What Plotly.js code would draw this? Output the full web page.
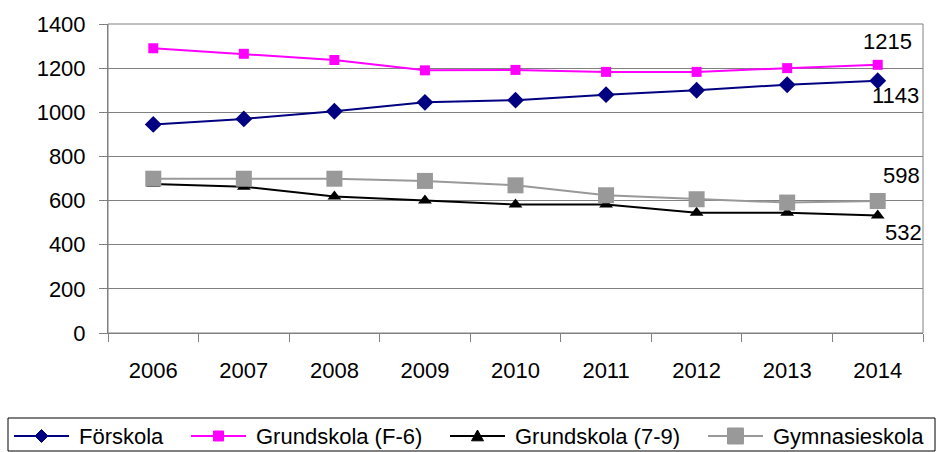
<!DOCTYPE html>
<html><head><meta charset="utf-8">
<script src="https://cdn.plot.ly/plotly-3.0.1.min.js"></script>
<style>body{margin:0;padding:0;background:#fff}#chart{width:939px;height:452px}</style>
</head><body><div id="chart"></div>
<script>
const years = ["2006","2007","2008","2009","2010","2011","2012","2013","2014"];
const forskola = [945, 970, 1005, 1045, 1055, 1080, 1100, 1125, 1143];
const grundF6 = [1290, 1265, 1237, 1190, 1192, 1183, 1183, 1200, 1215];
const grund79 = [675, 663, 618, 600, 582, 582, 545, 545, 532];
const gymnasie = [699, 699, 699, 689, 669, 624, 606, 591, 598];
const yTicks = [0, 200, 400, 600, 800, 1000, 1200, 1400];
const seriesNames = ["Förskola", "Grundskola (F-6)", "Grundskola (7-9)", "Gymnasieskola"];

const FONT = "Liberation Sans, Arial, sans-serif";
const colors = ["#000080", "#FF00FF", "#000000", "#999999"];
const symbols = ["diamond", "square", "triangle-up", "square"];
const sizes = [13, 10, 12, 16];
const values = [forskola, grundF6, grund79, gymnasie];

const traces = values.map((v, i) => ({
  x: years, y: v, name: seriesNames[i], mode: "lines+markers", showlegend: false,
  line: {color: colors[i], width: 2}, marker: {symbol: symbols[i], size: sizes[i], color: colors[i]}
}));

// Page-pixel -> paper conversion for the custom legend below the plot
const M = {l: 108, r: 16, t: 24, b: 119};
const PW = 939 - M.l - M.r, PH = 452 - M.t - M.b;
const px = p => (p - M.l) / PW;
const py = p => (452 - M.b - p) / PH;
const pt = (x, y) => px(x).toFixed(5) + "," + py(y).toFixed(5);
function glyphPath(sym, cx, cy, size) {
  const h = size / 2;
  if (sym === "diamond") return "M" + pt(cx, cy - h) + " L" + pt(cx + h, cy) + " L" + pt(cx, cy + h) + " L" + pt(cx - h, cy) + " Z";
  if (sym === "triangle-up") return "M" + pt(cx, cy - h) + " L" + pt(cx + h, cy + h * 0.8) + " L" + pt(cx - h, cy + h * 0.8) + " Z";
  return "M" + pt(cx - h, cy - h) + " L" + pt(cx + h, cy - h) + " L" + pt(cx + h, cy + h) + " L" + pt(cx - h, cy + h) + " Z";
}

const legendLineStart = [14, 191, 450, 708];
const legendY = 436;
const shapes = [{type: "rect", xref: "paper", yref: "paper", x0: 0, x1: 1, y0: 0, y1: 1,
  line: {color: "#808080", width: 1}},
  {type: "rect", xref: "paper", yref: "paper", x0: px(8), x1: px(935), y0: py(451), y1: py(418),
   line: {color: "#000", width: 1}}];
const annotations = [];
legendLineStart.forEach((s, i) => {
  shapes.push({type: "line", xref: "paper", yref: "paper", x0: px(s), x1: px(s + 55),
    y0: py(legendY), y1: py(legendY), line: {color: colors[i], width: 2}});
  shapes.push({type: "path", xref: "paper", yref: "paper", path: glyphPath(symbols[i], s + 27.5, legendY, sizes[i]),
    fillcolor: colors[i], line: {color: colors[i], width: 1}});
  annotations.push({xref: "paper", yref: "paper", x: px(s + 63), y: py(legendY), text: seriesNames[i],
    showarrow: false, xanchor: "left", yanchor: "middle", font: {family: FONT, size: 22, color: "#000"}});
});

const last = years.length - 1;
[
  {x: last, y: grundF6[last], text: String(grundF6[last]), xshift: 10, yshift: 23},
  {x: last, y: forskola[last], text: String(forskola[last]), xshift: 18, yshift: -15},
  {x: last, y: gymnasie[last], text: String(gymnasie[last]), xshift: 24, yshift: 26},
  {x: last, y: grund79[last], text: String(grund79[last]), xshift: 26, yshift: -17}
].forEach(a => annotations.push(Object.assign({xref: "x", yref: "y", showarrow: false,
   xanchor: "center", yanchor: "middle", font: {family: FONT, size: 22, color: "#000"}}, a)));

const layout = {
  width: 939, height: 452,
  margin: {l: M.l, r: M.r, t: M.t, b: M.b, pad: 0, autoexpand: false},
  paper_bgcolor: "#fff", plot_bgcolor: "#fff",
  font: {family: FONT, size: 22, color: "#000"},
  showlegend: false,
  xaxis: {type: "category", range: [-0.5, 8.5], showgrid: false, zeroline: false,
    showline: true, linecolor: "#808080", linewidth: 1, ticks: "outside", tickson: "boundaries",
    ticklen: 8, tickcolor: "#808080", tickfont: {family: FONT, size: 22}, ticklabelstandoff: 18},
  yaxis: {range: [0, 1400], tickvals: yTicks, showgrid: true, gridcolor: "#808080", gridwidth: 1,
    zeroline: false, showline: true, linecolor: "#808080", ticks: "outside", ticklen: 8,
    tickcolor: "#808080", tickfont: {family: FONT, size: 22}, ticklabelstandoff: 9},
  shapes: shapes,
  annotations: annotations
};
Plotly.newPlot("chart", traces, layout, {displayModeBar: false, staticPlot: true});
</script></body></html>
